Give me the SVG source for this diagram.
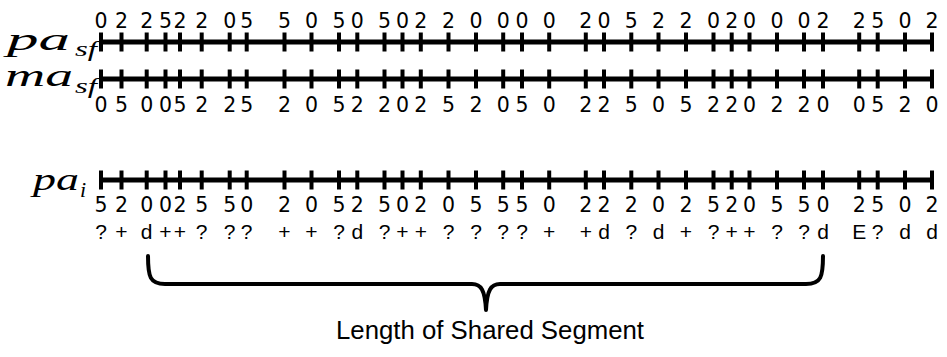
<svg xmlns="http://www.w3.org/2000/svg" width="947" height="357" viewBox="0 0 947 357">
<style>
.ln{stroke:#000;stroke-width:5;fill:none}
.tk{stroke:#000;stroke-width:4}
.num{font-family:"DejaVu Sans",sans-serif;font-size:20.5px;text-anchor:middle;fill:#000}
.sym{font-family:"Liberation Sans",Arial,sans-serif;font-size:21px;text-anchor:middle;fill:#000}
.math{font-family:"Liberation Serif","Times New Roman",serif;font-style:italic;fill:#000}
.cap{font-family:"Liberation Sans",Arial,sans-serif;font-size:25px;text-anchor:middle;fill:#000}
.br{stroke:#000;stroke-width:4;fill:none;stroke-linejoin:round;stroke-linecap:round}
</style>
<defs>
<g id="ticks">
<path class="tk" d="M101,-9.5v19M121.5,-9.5v19M146.7,-9.5v19M165.5,-9.5v19M180,-9.5v19M201.7,-9.5v19M229.7,-9.5v19M246.7,-9.5v19M284.5,-9.5v19M311.5,-9.5v19M339,-9.5v19M357.3,-9.5v19M384.5,-9.5v19M402.5,-9.5v19M420.8,-9.5v19M448.5,-9.5v19M476,-9.5v19M503.2,-9.5v19M522,-9.5v19M549.2,-9.5v19M585.8,-9.5v19M604,-9.5v19M631.3,-9.5v19M658.5,-9.5v19M686,-9.5v19M713.5,-9.5v19M731.7,-9.5v19M749.5,-9.5v19M777,-9.5v19M804,-9.5v19M823,-9.5v19M859.2,-9.5v19M877.7,-9.5v19M905,-9.5v19M932,-9.5v19"/>
<path class="ln" d="M101,0H932"/>
</g>
</defs>

<g id="row-pa-sf">
<text class="math" x="7" y="50" font-size="31" textLength="63" lengthAdjust="spacingAndGlyphs">pa</text>
<text class="math" x="75" y="56" font-size="22" textLength="22" lengthAdjust="spacingAndGlyphs">sf</text>
<use href="#ticks" y="42"/>
<text class="num" y="28"><tspan x="101">0</tspan><tspan x="121.5">2</tspan><tspan x="146.7">2</tspan><tspan x="165.5">5</tspan><tspan x="180">2</tspan><tspan x="201.7">2</tspan><tspan x="229.7">0</tspan><tspan x="246.7">5</tspan><tspan x="284.5">5</tspan><tspan x="311.5">0</tspan><tspan x="339">5</tspan><tspan x="357.3">0</tspan><tspan x="384.5">5</tspan><tspan x="402.5">0</tspan><tspan x="420.8">2</tspan><tspan x="448.5">2</tspan><tspan x="476">0</tspan><tspan x="503.2">0</tspan><tspan x="522">0</tspan><tspan x="549.2">0</tspan><tspan x="585.8">2</tspan><tspan x="604">0</tspan><tspan x="631.3">5</tspan><tspan x="658.5">2</tspan><tspan x="686">2</tspan><tspan x="713.5">0</tspan><tspan x="731.7">2</tspan><tspan x="749.5">0</tspan><tspan x="777">0</tspan><tspan x="804">0</tspan><tspan x="823">2</tspan><tspan x="859.2">2</tspan><tspan x="877.7">5</tspan><tspan x="905">0</tspan><tspan x="932">2</tspan></text>
</g>

<g id="row-ma-sf">
<text class="math" x="5" y="86" font-size="31" textLength="68" lengthAdjust="spacingAndGlyphs">ma</text>
<text class="math" x="75" y="93" font-size="22" textLength="22" lengthAdjust="spacingAndGlyphs">sf</text>
<use href="#ticks" y="79"/>
<text class="num" y="112"><tspan x="101">0</tspan><tspan x="121.5">5</tspan><tspan x="146.7">0</tspan><tspan x="165.5">0</tspan><tspan x="180">5</tspan><tspan x="201.7">2</tspan><tspan x="229.7">2</tspan><tspan x="246.7">5</tspan><tspan x="284.5">2</tspan><tspan x="311.5">0</tspan><tspan x="339">5</tspan><tspan x="357.3">2</tspan><tspan x="384.5">2</tspan><tspan x="402.5">0</tspan><tspan x="420.8">2</tspan><tspan x="448.5">5</tspan><tspan x="476">2</tspan><tspan x="503.2">0</tspan><tspan x="522">5</tspan><tspan x="549.2">0</tspan><tspan x="585.8">2</tspan><tspan x="604">2</tspan><tspan x="631.3">5</tspan><tspan x="658.5">0</tspan><tspan x="686">5</tspan><tspan x="713.5">2</tspan><tspan x="731.7">2</tspan><tspan x="749.5">0</tspan><tspan x="777">2</tspan><tspan x="804">2</tspan><tspan x="823">0</tspan><tspan x="859.2">0</tspan><tspan x="877.7">5</tspan><tspan x="905">2</tspan><tspan x="932">0</tspan></text>
</g>

<g id="row-pa-i">
<text class="math" x="33" y="190" font-size="31" textLength="46" lengthAdjust="spacingAndGlyphs">pa</text>
<text class="math" x="80" y="197" font-size="22">i</text>
<use href="#ticks" y="180"/>
<text class="num" y="212"><tspan x="101">5</tspan><tspan x="121.5">2</tspan><tspan x="146.7">0</tspan><tspan x="165.5">0</tspan><tspan x="180">2</tspan><tspan x="201.7">5</tspan><tspan x="229.7">5</tspan><tspan x="246.7">0</tspan><tspan x="284.5">2</tspan><tspan x="311.5">0</tspan><tspan x="339">5</tspan><tspan x="357.3">2</tspan><tspan x="384.5">5</tspan><tspan x="402.5">0</tspan><tspan x="420.8">2</tspan><tspan x="448.5">0</tspan><tspan x="476">5</tspan><tspan x="503.2">5</tspan><tspan x="522">5</tspan><tspan x="549.2">0</tspan><tspan x="585.8">2</tspan><tspan x="604">2</tspan><tspan x="631.3">2</tspan><tspan x="658.5">0</tspan><tspan x="686">2</tspan><tspan x="713.5">5</tspan><tspan x="731.7">2</tspan><tspan x="749.5">0</tspan><tspan x="777">5</tspan><tspan x="804">5</tspan><tspan x="823">0</tspan><tspan x="859.2">2</tspan><tspan x="877.7">5</tspan><tspan x="905">0</tspan><tspan x="932">2</tspan></text>
<text class="sym" y="239"><tspan x="101">?</tspan><tspan x="121.5">+</tspan><tspan x="146.7">d</tspan><tspan x="165.5">+</tspan><tspan x="180">+</tspan><tspan x="201.7">?</tspan><tspan x="229.7">?</tspan><tspan x="246.7">?</tspan><tspan x="284.5">+</tspan><tspan x="311.5">+</tspan><tspan x="339">?</tspan><tspan x="357.3">d</tspan><tspan x="384.5">?</tspan><tspan x="402.5">+</tspan><tspan x="420.8">+</tspan><tspan x="448.5">?</tspan><tspan x="476">?</tspan><tspan x="503.2">?</tspan><tspan x="522">?</tspan><tspan x="549.2">+</tspan><tspan x="585.8">+</tspan><tspan x="604">d</tspan><tspan x="631.3">?</tspan><tspan x="658.5">d</tspan><tspan x="686">+</tspan><tspan x="713.5">?</tspan><tspan x="731.7">+</tspan><tspan x="749.5">+</tspan><tspan x="777">?</tspan><tspan x="804">?</tspan><tspan x="823">d</tspan><tspan x="859.2">E</tspan><tspan x="877.7">?</tspan><tspan x="905">d</tspan><tspan x="932">d</tspan></text>
</g>

<g id="connectors">
<path class="br" d="M148,256 C148,277 150,284 165,284 L472,284 C481,284 485,290 486,310 C487,290 491,284 500,284 L806,284 C821,284 823,277 823,256"/>
</g>

<g id="label-shared">
<text class="cap" x="490" y="339" textLength="308" lengthAdjust="spacingAndGlyphs">Length of Shared Segment</text>
</g>
</svg>
